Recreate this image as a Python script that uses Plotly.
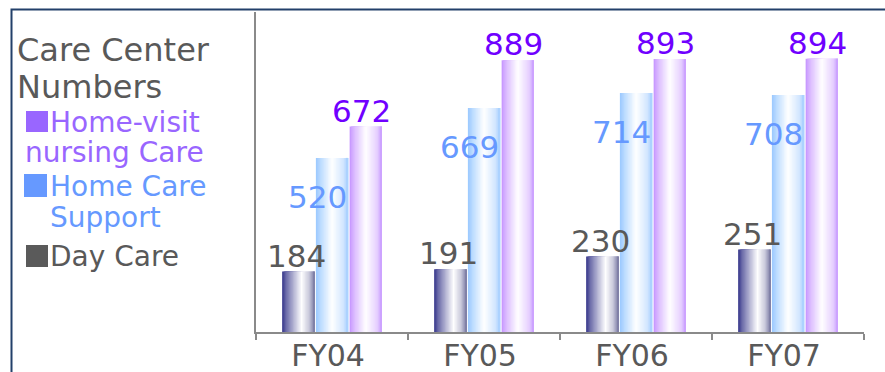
import plotly.graph_objects as go

# ---------------- data ----------------
categories = ["FY04", "FY05", "FY06", "FY07"]
day_care = [184, 191, 230, 251]
home_care_support = [520, 669, 714, 708]
home_visit_nursing = [672, 889, 893, 894]

chart_title = ["Care Center", "Numbers"]
legend_day = ["Day Care"]
legend_home = ["Home Care", "Support"]
legend_visit = ["Home-visit", "nursing Care"]

# ---------------- style ----------------
FONT = "DejaVu Sans"
GRAY_TXT = "#595959"
AXIS_COL = "#8a8a8a"
W_PX, H_PX = 885, 372
ML, MR, MT, MB = 256, 21, 12, 40
PW = W_PX - ML - MR
PH = H_PX - MT - MB

BAR_W = 0.212
series = [
    dict(name="Day Care", y=day_care, axis="y", yaxis_key="yaxis", rng=975,
         left=-0.222 - BAR_W / 2,
         stops=[(0.0, "#34348a"), (0.12, "#6a6aa8"), (0.6, "#ffffff"), (0.85, "#c4c4d8"), (1.0, "#76769f")],
         label_col=GRAY_TXT, lx=-36, ly=16),
    dict(name="Home Care Support", y=home_care_support, axis="y2", yaxis_key="yaxis2", rng=956,
         left=0.0 - BAR_W / 2,
         stops=[(0.0, "#99c8ff"), (0.15, "#bcdcff"), (0.5, "#ffffff"), (0.85, "#d2e6ff"), (1.0, "#a6cfff")],
         label_col="#6699ff", lx=-15, ly=-39),
    dict(name="Home-visit nursing Care", y=home_visit_nursing, axis="y3", yaxis_key="yaxis3", rng=1047,
         left=0.222 - BAR_W / 2,
         stops=[(0.0, "#c595ff"), (0.15, "#dcbcff"), (0.5, "#ffffff"), (0.85, "#e6d0ff"), (1.0, "#c99cff")],
         label_col="#7000ff", lx=29, ly=16),
]


def hex2rgb(h):
    h = h.lstrip("#")
    return tuple(int(h[i:i + 2], 16) for i in (0, 2, 4))


def grad_color(stops, t):
    for (t0, c0), (t1, c1) in zip(stops[:-1], stops[1:]):
        if t0 <= t <= t1:
            f = 0 if t1 == t0 else (t - t0) / (t1 - t0)
            a, b = hex2rgb(c0), hex2rgb(c1)
            r = [round(a[i] + (b[i] - a[i]) * f) for i in range(3)]
            return "rgb(%d,%d,%d)" % tuple(r)
    return stops[-1][1]


N_SLICES = 24
fig = go.Figure()
for s in series:
    for i in range(N_SLICES):
        t = (i + 0.5) / N_SLICES
        off = s["left"] + BAR_W * i / N_SLICES
        fig.add_trace(go.Bar(
            x=categories, y=s["y"], yaxis=s["axis"],
            offset=off, width=BAR_W * (N_SLICES - i) / N_SLICES,
            marker=dict(color=grad_color(s["stops"], t), line=dict(width=0)),
            showlegend=False, hoverinfo="skip",
        ))

annotations = []
# value labels
for s in series:
    for c, v in zip(categories, s["y"]):
        annotations.append(dict(
            x=c, y=v, xref="x", yref=s["axis"], text=str(v), showarrow=False,
            xanchor="center", yanchor="middle", xshift=s["lx"], yshift=s["ly"],
            font=dict(family=FONT, size=31, color=s["label_col"]),
        ))


def px2paper(px, py):
    return (px - ML) / PW, (H_PX - MB - py) / PH


def text_at(txt, px, py, color, size):
    x, y = px2paper(px, py)
    annotations.append(dict(x=x, y=y, xref="paper", yref="paper", text=txt, showarrow=False,
                            xanchor="left", yanchor="middle",
                            font=dict(family=FONT, size=size, color=color)))


# title
text_at(chart_title[0], 15, 50, GRAY_TXT, 32)
text_at(chart_title[1], 15, 87, GRAY_TXT, 32)
# legend
text_at(legend_visit[0], 48, 122, "#9966ff", 28)
text_at(legend_visit[1], 23, 152, "#9966ff", 28)
text_at(legend_home[0], 48, 186, "#6699ff", 28)
text_at(legend_home[1], 48, 217, "#6699ff", 28)
text_at(legend_day[0], 48, 256, GRAY_TXT, 28)

shapes = []


def square(x0, y0, x1, y1, color):
    a0, b0 = px2paper(x0, y1)
    a1, b1 = px2paper(x1, y0)
    shapes.append(dict(type="rect", xref="paper", yref="paper", x0=a0, x1=a1, y0=b0, y1=b1,
                       fillcolor=color, line=dict(width=0)))


square(26, 111, 48, 132, "#9966ff")
square(24, 174, 47, 197, "#6699ff")
square(26, 245, 48, 267, "#5a5a5a")

# outer frame
fx0, fy1 = px2paper(11.5, 9.5)
fx1, fy0 = px2paper(900, 400)
shapes.append(dict(type="rect", xref="paper", yref="paper", x0=fx0, x1=fx1, y0=fy0, y1=fy1,
                   line=dict(color="#23406a", width=2), fillcolor="rgba(0,0,0,0)", layer="above"))

hidden = dict(visible=False, showgrid=False, zeroline=False, overlaying="y")
fig.update_layout(
    width=W_PX, height=H_PX,
    margin=dict(l=ML, r=MR, t=MT, b=MB, autoexpand=False),
    paper_bgcolor="white", plot_bgcolor="white",
    barmode="overlay", showlegend=False,
    xaxis=dict(type="category", range=[-0.5, 3.5], showline=True, linecolor=AXIS_COL, linewidth=2,
               ticks="outside", tickson="boundaries", ticklen=6, tickwidth=1.5, tickcolor=AXIS_COL,
               ticklabelstandoff=-4, ticklabelshift=-4,
               tickfont=dict(family=FONT, size=30, color=GRAY_TXT), showgrid=False, zeroline=False,
               automargin=False),
    yaxis=dict(range=[0, series[0]["rng"]], showline=True, linecolor=AXIS_COL, linewidth=2,
               showticklabels=False, ticks="", showgrid=False, zeroline=False, automargin=False),
    yaxis2=dict(range=[0, series[1]["rng"]], **hidden),
    yaxis3=dict(range=[0, series[2]["rng"]], **hidden),
    annotations=annotations, shapes=shapes,
)

fig.write_html("out.html")
